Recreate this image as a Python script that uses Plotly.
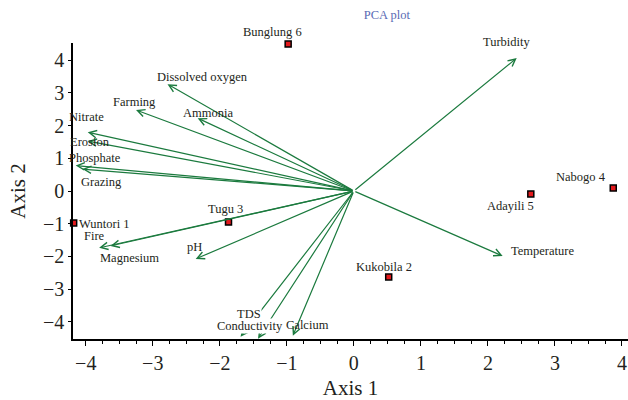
import plotly.graph_objects as go

# ---- data ----
sites = ["Wuntori 1", "Kukobila 2", "Tugu 3", "Nabogo 4", "Adayili 5", "Bunglung 6"]
site_x = [-4.18, 0.52, -1.87, 3.87, 2.64, -0.98]
site_y = [-0.98, -2.63, -0.95, 0.09, -0.09, 4.50]

variables = ["Turbidity", "Temperature", "Dissolved oxygen", "Farming", "Ammonia",
             "Nitrate", "Erosion", "Phosphate", "Grazing", "Fire", "Magnesium",
             "pH", "TDS", "Conductivity", "Calcium"]
var_x = [2.43, 2.22, -2.78, -3.25, -2.33, -3.97, -3.97, -4.15, -4.05, -3.80, -3.63,
         -2.36, -1.69, -1.43, -0.91]
var_y = [4.07, -1.99, 3.27, 2.48, 2.23, 1.80, 1.53, 0.78, 0.67, -1.74, -1.68,
         -2.08, -4.46, -4.52, -4.43]

x_ticks = [-4, -3, -2, -1, 0, 1, 2, 3, 4]
y_ticks = [-4, -3, -2, -1, 0, 1, 2, 3, 4]

# ---- styling (label offsets in pixels: xshift, yshift) ----
var_label_shift = {
    "Turbidity": (-10, 16), "Temperature": (40, 5), "Dissolved oxygen": (35, 7),
    "Farming": (-2, 8), "Ammonia": (10, 5), "Nitrate": (-1, 15), "Erosion": (2, -1),
    "Phosphate": (19, 8), "Grazing": (19, -13), "Fire": (-5, 12), "Magnesium": (19, -12),
    "pH": (-1, 12), "TDS": (8, 23), "Conductivity": (-8, 13), "Calcium": (15, 11),
}
var_label_bg = {"TDS", "Conductivity"}
site_label_shift = {
    "Wuntori 1": (31, -1), "Kukobila 2": (-5, 10), "Tugu 3": (-3, 13),
    "Nabogo 4": (-32, 11), "Adayili 5": (-20, -12), "Bunglung 6": (-16, 12),
}

GREEN = "#1b7a3e"
TEXT = "#231f20"
FONT = "Liberation Serif"
LABEL_SIZE = 12.5

fig = go.Figure()

fig.add_trace(go.Scatter(
    x=site_x, y=site_y, mode="markers",
    marker=dict(symbol="square", size=6, color="#e3191c",
                line=dict(color="black", width=1.5)),
    cliponaxis=False, hoverinfo="text", text=sites, showlegend=False,
))

annotations = []
# arrows from origin to loading tips
for name, vx, vy in zip(variables, var_x, var_y):
    annotations.append(dict(
        x=vx, y=vy, ax=0, ay=0, xref="x", yref="y", axref="x", ayref="y",
        text="", showarrow=True, arrowhead=5, arrowsize=1.2, arrowwidth=1.2,
        arrowcolor=GREEN, standoff=0, startstandoff=0,
    ))
# variable labels
for name, vx, vy in zip(variables, var_x, var_y):
    dx, dy = var_label_shift[name]
    annotations.append(dict(
        x=vx, y=vy, xref="x", yref="y", text=name, showarrow=False,
        xshift=dx, yshift=dy, font=dict(family=FONT, size=LABEL_SIZE, color=TEXT),
        bgcolor="white" if name in var_label_bg else "rgba(0,0,0,0)",
        borderpad=0,
    ))
# site labels
for name, sx, sy in zip(sites, site_x, site_y):
    dx, dy = site_label_shift[name]
    annotations.append(dict(
        x=sx, y=sy, xref="x", yref="y", text=name, showarrow=False,
        xshift=dx, yshift=dy, font=dict(family=FONT, size=LABEL_SIZE, color=TEXT),
    ))

fig.update_layout(
    width=628, height=400,
    margin=dict(l=73, r=0, t=43, b=61),
    paper_bgcolor="white", plot_bgcolor="white",
    font=dict(family=FONT, color=TEXT),
    title=dict(text="PCA plot", x=0.616, xref="container", xanchor="center",
               y=0.9625, yref="container", yanchor="middle",
               font=dict(family=FONT, size=12.5, color="#5a6ab4")),
    annotations=annotations,
    showlegend=False,
)

fig.update_xaxes(
    range=[-4.19, 4.09], tickvals=x_ticks, showline=True, linecolor="black",
    linewidth=1.5, ticks="outside", ticklen=5, tickwidth=1.2, tickcolor="black",
    minor=dict(dtick=0.25, tick0=0, ticks="outside", ticklen=3, tickwidth=1.2,
               tickcolor="black"),
    showgrid=False, zeroline=False, tickfont=dict(family=FONT, size=20, color=TEXT),
    title=dict(text="Axis 1", font=dict(family=FONT, size=21, color=TEXT), standoff=8),
)
fig.update_yaxes(
    range=[-4.53, 4.53], tickvals=y_ticks, showline=True, linecolor="black",
    linewidth=1.5, ticks="outside", ticklen=3, tickwidth=1.2, tickcolor="black",
    showgrid=False, zeroline=False, tickfont=dict(family=FONT, size=20, color=TEXT),
    title=dict(text="Axis 2", font=dict(family=FONT, size=21, color=TEXT), standoff=12),
)

fig.write_html("out.html", config={"displayModeBar": False},
               post_script="document.body.style.margin='0';document.body.style.overflow='hidden';")
